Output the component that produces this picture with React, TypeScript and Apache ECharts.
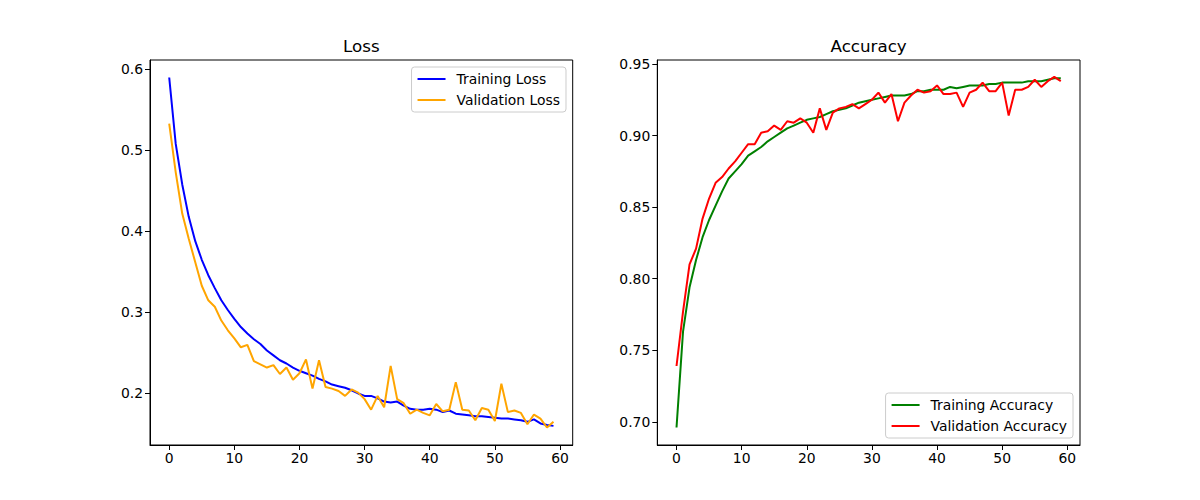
import React, { useEffect, useRef } from "react";
import * as echarts from "echarts";

const epochs = [
  0, 1, 2, 3, 4, 5, 6, 7, 8, 9, 10, 11, 12, 13, 14, 15, 16, 17, 18, 19,
  20, 21, 22, 23, 24, 25, 26, 27, 28, 29, 30, 31, 32, 33, 34, 35, 36, 37, 38, 39,
  40, 41, 42, 43, 44, 45, 46, 47, 48, 49, 50, 51, 52, 53, 54, 55, 56, 57, 58, 59,
];

const trainLoss = [
  0.59, 0.508, 0.458, 0.418, 0.388, 0.365, 0.346, 0.33, 0.315, 0.303,
  0.292, 0.282, 0.274, 0.267, 0.261, 0.253, 0.247, 0.241, 0.237, 0.232,
  0.228, 0.225, 0.222, 0.218, 0.215, 0.211, 0.209, 0.207, 0.204, 0.2,
  0.197, 0.197, 0.194, 0.19, 0.189, 0.19, 0.185, 0.181, 0.18, 0.18,
  0.181, 0.18, 0.177, 0.179, 0.175, 0.174, 0.173, 0.172, 0.172, 0.171,
  0.17, 0.169, 0.169, 0.168, 0.167, 0.165, 0.168, 0.163, 0.161, 0.16,
];

const valLoss = [
  0.533, 0.473, 0.422, 0.391, 0.362, 0.333, 0.315, 0.307, 0.29, 0.278,
  0.268, 0.257, 0.26, 0.24, 0.236, 0.232, 0.235, 0.224, 0.232, 0.217,
  0.225, 0.242, 0.206, 0.241, 0.208, 0.206, 0.203, 0.197, 0.205, 0.201,
  0.193, 0.18, 0.197, 0.183, 0.234, 0.193, 0.188, 0.175, 0.18, 0.176,
  0.173, 0.187, 0.178, 0.18, 0.214, 0.18, 0.179, 0.167, 0.182, 0.18,
  0.166, 0.212, 0.177, 0.179, 0.176, 0.162, 0.174, 0.169, 0.158, 0.165,
];

const trainAcc = [
  0.696, 0.763, 0.794, 0.813, 0.829, 0.841, 0.851, 0.861, 0.87, 0.875,
  0.88, 0.886, 0.889, 0.892, 0.896, 0.899, 0.902, 0.905, 0.907, 0.909,
  0.911, 0.912, 0.913, 0.915, 0.917, 0.918, 0.919, 0.921, 0.923, 0.924,
  0.925, 0.926, 0.927, 0.928, 0.928, 0.928, 0.929, 0.931, 0.931, 0.932,
  0.932, 0.932, 0.934, 0.933, 0.934, 0.935, 0.935, 0.935, 0.936, 0.936,
  0.937, 0.937, 0.937, 0.937, 0.938, 0.938, 0.938, 0.939, 0.94, 0.94,
];

const valAcc = [
  0.739, 0.777, 0.81, 0.821, 0.842, 0.856, 0.867, 0.871, 0.877, 0.882,
  0.888, 0.894, 0.894, 0.902, 0.903, 0.907, 0.904, 0.91, 0.909, 0.912,
  0.909, 0.902, 0.919, 0.904, 0.916, 0.919, 0.92, 0.922, 0.919, 0.922,
  0.925, 0.93, 0.923, 0.929, 0.91, 0.923, 0.928, 0.932, 0.93, 0.931,
  0.935, 0.929, 0.929, 0.93, 0.92, 0.93, 0.932, 0.937, 0.931, 0.931,
  0.937, 0.914, 0.932, 0.932, 0.934, 0.939, 0.934, 0.938, 0.941, 0.938,
];

const xTicks = [0, 10, 20, 30, 40, 50, 60];
const lossTicks = [0.2, 0.3, 0.4, 0.5, 0.6];
const accTicks = [0.7, 0.75, 0.8, 0.85, 0.9, 0.95];

const FONT = "DejaVu Sans";

function pairs(ys: number[]) {
  return ys.map((y, i) => [epochs[i], y]);
}

function xAxis(gridIndex: number) {
  return {
    type: "value",
    gridIndex,
    min: -2.95,
    max: 61.95,
    splitLine: { show: false },
    axisLine: { show: true, onZero: false, lineStyle: { color: "#000", width: 1 } },
    axisTick: {
      show: true,
      length: 5,
      customValues: xTicks,
      lineStyle: { color: "#000", width: 1 },
    },
    axisLabel: {
      customValues: xTicks,
      color: "#000",
      fontFamily: FONT,
      fontSize: 13.9,
      margin: 6,
      formatter: (v: number) => String(v),
    },
  };
}

function yAxis(gridIndex: number, min: number, max: number, ticks: number[], digits: number) {
  return {
    type: "value",
    gridIndex,
    min,
    max,
    splitLine: { show: false },
    axisLine: { show: true, onZero: false, lineStyle: { color: "#000", width: 1 } },
    axisTick: {
      show: true,
      length: 5,
      customValues: ticks,
      lineStyle: { color: "#000", width: 1 },
    },
    axisLabel: {
      customValues: ticks,
      color: "#000",
      fontFamily: FONT,
      fontSize: 13.9,
      margin: 7,
      formatter: (v: number) => v.toFixed(digits),
    },
  };
}

function line(name: string, data: number[], color: string, idx: number) {
  return {
    name,
    type: "line",
    xAxisIndex: idx,
    yAxisIndex: idx,
    data: pairs(data),
    symbol: "none",
    showSymbol: false,
    lineStyle: { color, width: 2 },
    itemStyle: { color },
    z: 3,
  };
}

const legendBase = {
  orient: "vertical",
  icon: "rect",
  itemWidth: 28,
  itemHeight: 2,
  itemGap: 5,
  padding: [4, 6, 4, 6],
  backgroundColor: "rgba(255,255,255,0.8)",
  borderColor: "#cccccc",
  borderWidth: 1,
  borderRadius: 3,
  textStyle: {
    color: "#000",
    fontFamily: FONT,
    fontSize: 13.9,
    lineHeight: 16,
    padding: [0, 0, 0, 6],
  },
};

export default function App() {
  const ref = useRef<HTMLDivElement>(null);
  useEffect(() => {
    if (!ref.current) return;
    const chart = echarts.init(ref.current, null, { renderer: "svg" });
    chart.setOption({
      animation: false,
      backgroundColor: "#fff",
      grid: [
        { left: 150, top: 60, width: 422.7, height: 385, show: true, borderColor: "#000", borderWidth: 1, backgroundColor: "transparent" },
        { left: 657.3, top: 60, width: 422.7, height: 385, show: true, borderColor: "#000", borderWidth: 1, backgroundColor: "transparent" },
      ],
      xAxis: [xAxis(0), xAxis(1)],
      yAxis: [
        yAxis(0, 0.1364, 0.6116, lossTicks, 1),
        yAxis(1, 0.6838, 0.9528, accTicks, 2),
      ],
      legend: [
        { ...legendBase, data: ["Training Loss", "Validation Loss"], right: 634, top: 67 },
        { ...legendBase, data: ["Training Accuracy", "Validation Accuracy"], right: 127, bottom: 62 },
      ],
      graphic: [
        {
          type: "text",
          x: 361.35,
          y: 46,
          style: { text: "Loss", fontFamily: FONT, fontSize: 16.7, fill: "#000", textAlign: "center", textVerticalAlign: "middle" },
        },
        {
          type: "text",
          x: 868.65,
          y: 46,
          style: { text: "Accuracy", fontFamily: FONT, fontSize: 16.7, fill: "#000", textAlign: "center", textVerticalAlign: "middle" },
        },
      ],
      series: [
        line("Training Loss", trainLoss, "#0000ff", 0),
        line("Validation Loss", valLoss, "#ffa500", 0),
        line("Training Accuracy", trainAcc, "#008000", 1),
        line("Validation Accuracy", valAcc, "#ff0000", 1),
      ],
    });
    return () => chart.dispose();
  }, []);
  return (
    <div
      ref={ref}
      style={{ position: "fixed", left: 0, top: 0, width: 1200, height: 500, background: "#fff" }}
    />
  );
}
